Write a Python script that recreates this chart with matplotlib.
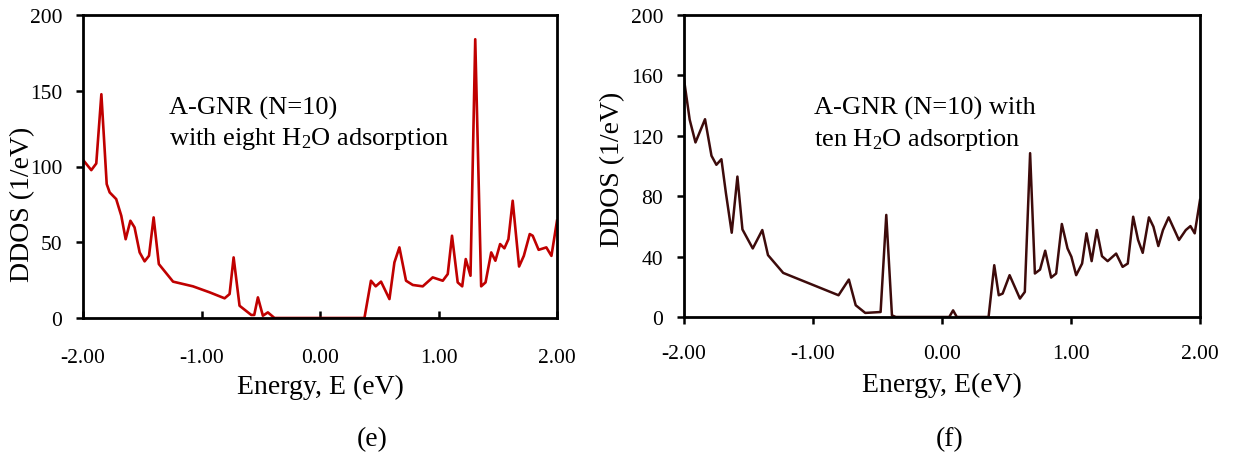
import numpy as np
import matplotlib
matplotlib.use('Agg')
import matplotlib.pyplot as plt

plt.rcParams['font.family'] = ['Liberation Serif', 'DejaVu Serif']
plt.rcParams['mathtext.fontset'] = 'custom'
plt.rcParams['mathtext.rm'] = 'Liberation Serif'

'''
DDOS of A-GNR (N=10), eight H2O molecules
'''
E_e = [-2.00, -1.93, -1.888, -1.845, -1.80, -1.775, -1.72, -1.677, -1.64, -1.60,
       -1.565, -1.522, -1.48, -1.443, -1.404, -1.36, -1.24, -1.072, -0.93, -0.805,
       -0.763, -0.729, -0.679, -0.58, -0.555, -0.524, -0.482, -0.44, -0.384, 0.375,
       0.43, 0.47, 0.515, 0.586, 0.628, 0.67, 0.726, 0.783, 0.867, 0.951,
       1.036, 1.078, 1.114, 1.162, 1.20, 1.23, 1.27, 1.31, 1.36, 1.397,
       1.445, 1.48, 1.52, 1.556, 1.59, 1.626, 1.68, 1.72, 1.77, 1.795,
       1.845, 1.91, 1.953, 2.00]
D_e = [104.4, 97.6, 102.0, 147.7, 88.4, 82.9, 78.5, 67.5, 52.0, 64.2,
       59.8, 43.3, 37.4, 41.1, 66.4, 35.6, 24.0, 20.9, 16.9, 13.0,
       15.8, 40.0, 8.1, 2.0, 2.0, 13.6, 1.5, 3.7, 0.0, 0.0,
       24.6, 20.9, 24.0, 12.5, 36.7, 46.6, 24.6, 21.8, 20.9, 26.8,
       24.6, 29.0, 54.3, 23.5, 20.9, 38.9, 27.9, 184.0, 20.9, 23.5,
       43.3, 37.8, 48.8, 46.0, 52.0, 77.4, 34.0, 41.0, 55.4, 54.3,
       45.0, 46.6, 41.0, 64.2]

'''
DDOS of A-GNR (N=10), ten H2O molecules
'''
E_f = [-2.00, -1.956, -1.911, -1.837, -1.787, -1.749, -1.71, -1.675, -1.63, -1.586,
       -1.547, -1.467, -1.393, -1.349, -1.231, -0.802, -0.722, -0.669, -0.595, -0.476,
       -0.432, -0.388, -0.358, 0.056, 0.086, 0.115, 0.361, 0.405, 0.44, 0.47,
       0.524, 0.604, 0.642, 0.683, 0.72, 0.76, 0.80, 0.846, 0.885, 0.929,
       0.973, 1.003, 1.04, 1.086, 1.12, 1.16, 1.20, 1.24, 1.284, 1.35,
       1.40, 1.44, 1.482, 1.52, 1.556, 1.604, 1.639, 1.677, 1.713, 1.757,
       1.802, 1.837, 1.89, 1.926, 1.959, 2.00]
D_f = [157.3, 130.7, 115.6, 131.0, 106.8, 100.8, 104.5, 82.0, 55.8, 93.0,
       58.0, 45.4, 57.6, 41.0, 29.2, 14.4, 24.8, 7.8, 2.7, 3.3,
       67.6, 1.1, 0.0, 0.0, 4.4, 0.0, 0.0, 34.3, 14.4, 15.5,
       27.7, 12.2, 16.6, 108.5, 28.8, 31.4, 43.9, 26.1, 28.8, 61.6,
       45.4, 39.9, 27.7, 35.4, 55.4, 37.0, 57.6, 40.3, 37.0, 42.0,
       33.2, 35.4, 66.4, 51.0, 42.5, 66.0, 59.8, 47.0, 57.6, 66.0,
       57.6, 51.0, 57.6, 60.2, 55.4, 77.5]

xticks = [-2, -1, 0, 1, 2]
xticklabels = ['-2.00', '-1.00', '0.00', '1.00', '2.00']
yticks_e = [0, 50, 100, 150, 200]
yticks_f = [0, 40, 80, 120, 160, 200]

W, H = 1240, 464
fig = plt.figure(figsize=(W/100, H/100), dpi=100)

def px(x, y):
    return x/W, 1 - y/H

ax1 = fig.add_axes([83/W, 1 - 319/H, 474/W, 303/H])
ax2 = fig.add_axes([684/W, 1 - 318/H, 516/W, 302/H])

ax1.plot(E_e, D_e, color='#C00000', lw=1.9, solid_joinstyle='round')
ax2.plot(E_f, D_f, color='#3d0b0b', lw=1.8, solid_joinstyle='round')

for ax, yt in [(ax1, yticks_e), (ax2, yticks_f)]:
    ax.set_xlim(-2, 2)
    ax.set_ylim(0, 200)
    ax.set_xticks(xticks)
    ax.set_xticklabels(xticklabels)
    ax.set_yticks(yt)
    for s in ax.spines.values():
        s.set_linewidth(2.0)
        s.set_color('black')
    ax.tick_params(axis='y', direction='out', length=5, width=1.8,
                   labelsize=15.5, pad=10)

# left panel: x ticks point inward, right panel: outward
ax1.tick_params(axis='x', direction='in', length=5, width=1.8,
                labelsize=15.5, pad=21.5)
ax2.tick_params(axis='x', direction='out', length=5, width=1.8,
                labelsize=15.5, pad=14.5)

ax1.text(0.181, 0.675, 'A-GNR (N=10)', transform=ax1.transAxes, fontsize=19)
ax1.text(0.181, 0.574, 'with eight H$\\mathregular{_2}$O adsorption',
         transform=ax1.transAxes, fontsize=19)
ax2.text(0.251, 0.672, 'A-GNR (N=10) with', transform=ax2.transAxes, fontsize=19)
ax2.text(0.251, 0.568, 'ten H$\\mathregular{_2}$O adsorption',
         transform=ax2.transAxes, fontsize=19)

fig.text(*px(23, 204), 'DDOS (1/eV)', rotation=90, ha='center', va='center', fontsize=20)
fig.text(*px(613, 169), 'DDOS (1/eV)', rotation=90, ha='center', va='center', fontsize=20)
fig.text(*px(320, 387), 'Energy, E (eV)', ha='center', va='center', fontsize=20)
fig.text(*px(942, 385), 'Energy, E(eV)', ha='center', va='center', fontsize=20)
fig.text(*px(372, 440), '(e)', ha='center', va='center', fontsize=20)
fig.text(*px(950, 440), '(f)', ha='center', va='center', fontsize=20)

fig.savefig('out.png', dpi=100)
